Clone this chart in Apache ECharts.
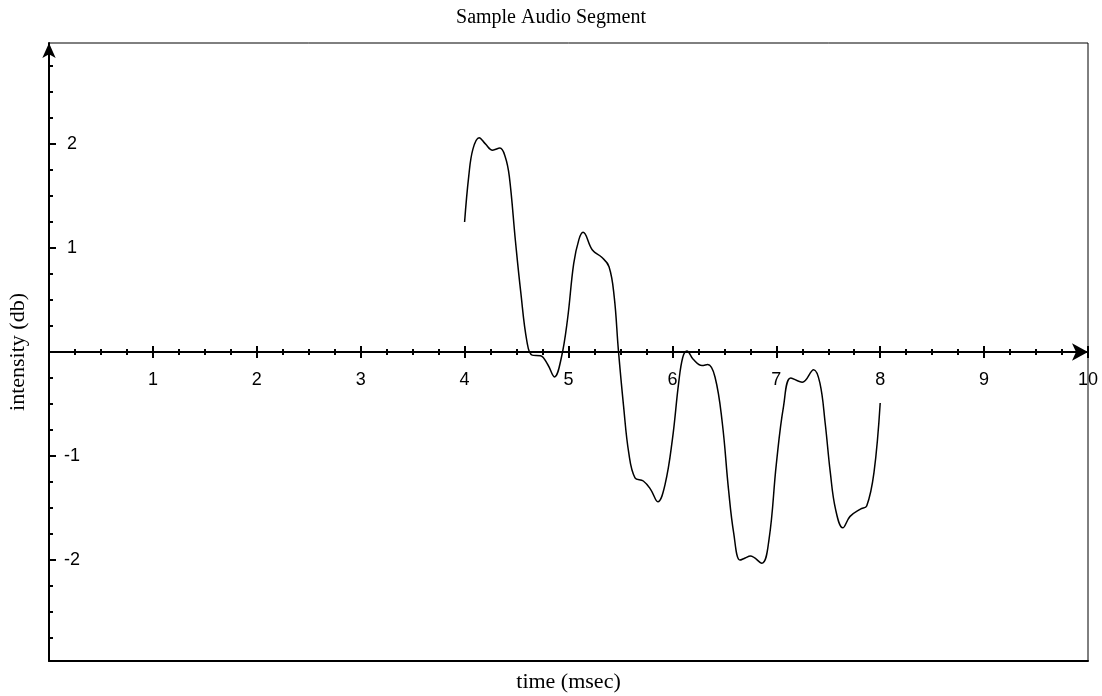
<!DOCTYPE html>
<html>
<head>
<meta charset="utf-8">
<script src="https://cdn.jsdelivr.net/npm/echarts@6/dist/echarts.min.js"></script>
<style>html,body{margin:0;padding:0;background:#fff;}#c{width:1102px;height:696px;}</style>
</head>
<body>
<div id="c"></div>
<script>
const times = [4.00,4.04,4.08,4.14,4.20,4.27,4.34,4.39,4.43,4.49,4.54,4.60,4.65,4.73,4.80,4.865,4.93,4.99,5.05,5.10,5.14,5.23,5.32,5.39,5.44,5.48,5.53,5.58,5.64,5.72,5.79,5.86,5.93,6.00,6.06,6.10,6.14,6.20,6.285,6.34,6.41,6.48,6.54,6.59,6.65,6.70,6.75,6.86,6.93,7.00,7.07,7.14,7.25,7.36,7.42,7.47,7.52,7.57,7.64,7.71,7.81,7.87,7.94,8.00];
const intensity = [1.25,1.69,1.95,2.06,2.00,1.94,1.96,1.88,1.69,1.06,0.58,0.10,-0.03,-0.035,-0.12,-0.24,-0.06,0.31,0.85,1.08,1.15,0.98,0.91,0.82,0.53,0.02,-0.52,-0.97,-1.21,-1.24,-1.32,-1.44,-1.27,-0.84,-0.30,-0.05,0.01,-0.07,-0.13,-0.12,-0.24,-0.68,-1.32,-1.74,-2.00,-1.98,-1.96,-2.03,-1.80,-1.08,-0.52,-0.25,-0.29,-0.17,-0.30,-0.68,-1.16,-1.51,-1.69,-1.58,-1.51,-1.48,-1.16,-0.49];
const yMajorTicks = [-2,-1,0,1,2];
const yLabelValues = [-2,-1,1,2];
const yMinorTicks = [-2.75,-2.5,-2.25,-1.75,-1.5,-1.25,-0.75,-0.5,-0.25,0.25,0.5,0.75,1.25,1.5,1.75,2.25,2.5,2.75];

const sans = 'Liberation Sans';
const serif = 'Liberation Serif';
const black = '#000';
const GRID_TOP = 43, GRID_BOTTOM = 35, H = 696;
const zeroOffset = -(H - GRID_TOP - GRID_BOTTOM) / 2;

const chart = echarts.init(document.getElementById('c'), null, {renderer:'canvas'});
const xBase = {
  type:'value', min:0, max:10, interval:1, position:'bottom', offset: zeroOffset,
  splitLine:{show:false}
};
chart.setOption({
  backgroundColor:'#fff',
  animation:false,
  title:{text:'Sample Audio Segment', left:'center', top:3,
    textStyle:{fontFamily:serif, fontSize:20, fontWeight:'normal', color:black}},
  grid:{left:49, right:14, top:GRID_TOP, bottom:GRID_BOTTOM, show:true, borderColor:black, borderWidth:1,
    containLabel:false, outerBoundsMode:'none'},
  xAxis:[
    Object.assign({}, xBase, {
      axisLine:{onZero:false, symbol:['none','arrow'], symbolSize:[13,16], lineStyle:{color:black, width:2}},
      axisTick:{show:true, inside:false, length:6, lineStyle:{color:black, width:2}},
      minorTick:{show:true, splitNumber:4, length:3, lineStyle:{color:black, width:2}},
      axisLabel:{show:true, margin:19, color:black, fontFamily:sans, fontSize:18,
        formatter:function(v){return v===0?'':String(v);}}
    }),
    Object.assign({}, xBase, {
      axisLine:{show:false, onZero:false},
      axisTick:{show:true, inside:true, length:6, lineStyle:{color:black, width:2}},
      minorTick:{show:true, splitNumber:4, length:3, lineStyle:{color:black, width:2}},
      axisLabel:{show:false}
    }),
    {type:'value', min:0, max:10, position:'bottom',
      splitLine:{show:false},
      axisLine:{onZero:false, lineStyle:{color:black, width:2}},
      axisTick:{show:false}, axisLabel:{show:false},
      name:'time (msec)', nameLocation:'middle', nameGap:10,
      nameTextStyle:{fontFamily:serif, fontSize:22, color:black}}
  ],
  yAxis:[
    {type:'value', min:-2.97, max:2.97, position:'left',
      splitLine:{show:false},
      axisLine:{onZero:false, symbol:['none','arrow'], symbolSize:[10,15], lineStyle:{color:black, width:2}},
      axisTick:{show:true, inside:true, length:7, customValues:yMajorTicks, lineStyle:{color:black, width:2}},
      axisLabel:{show:true, inside:true, margin:23, align:'center', customValues:yLabelValues, color:black, fontFamily:sans, fontSize:18},
      name:'intensity (db)', nameLocation:'middle', nameGap:20,
      nameTextStyle:{fontFamily:serif, fontSize:22, color:black}},
    {type:'value', min:-2.97, max:2.97, position:'left',
      splitLine:{show:false},
      axisLine:{show:false, onZero:false},
      axisTick:{show:true, inside:true, length:4, customValues:yMinorTicks, lineStyle:{color:black, width:2}},
      axisLabel:{show:false}}
  ],
  series:[{
    type:'line', xAxisIndex:0, yAxisIndex:0,
    data: times.map((t,i)=>[t, intensity[i]]),
    smooth:0.4, symbol:'none',
    lineStyle:{color:black, width:1.5}
  }]
});
</script>
</body>
</html>
